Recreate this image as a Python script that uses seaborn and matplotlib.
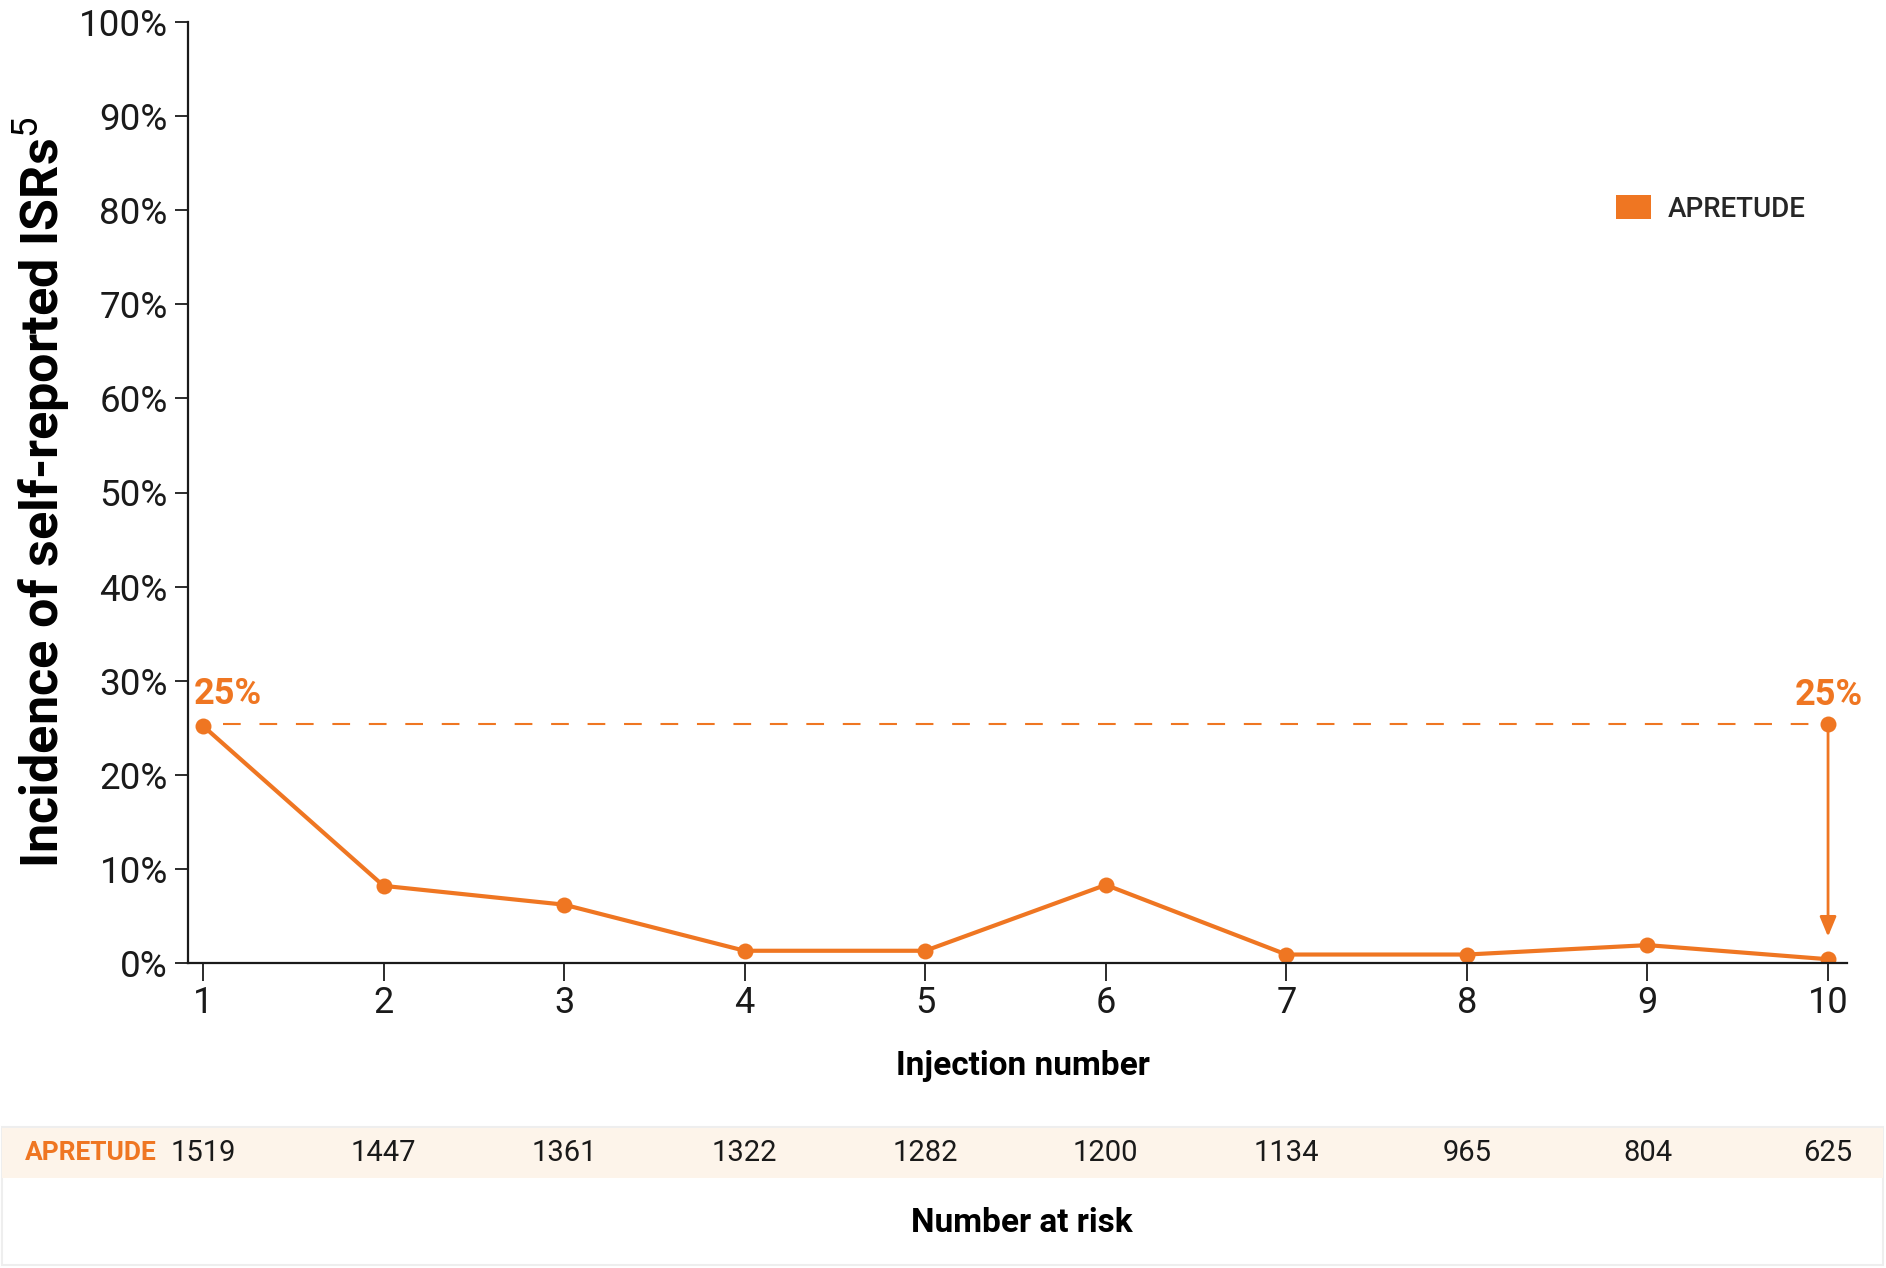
import numpy as np
import pandas as pd
import matplotlib
matplotlib.use("Agg")
import matplotlib.pyplot as plt
import matplotlib.transforms as mtransforms
from matplotlib.patches import Patch, Rectangle
import seaborn as sns

# ==========================
# Data
# ==========================

injections = [1, 2, 3, 4, 5, 6, 7, 8, 9, 10]
incidence = [25.2, 8.2, 6.2, 1.3, 1.3, 8.3, 0.9, 0.9, 1.9, 0.4]
number_at_risk = [1519, 1447, 1361, 1322, 1282, 1200, 1134, 965, 804, 625]
y_ticks = [0, 10, 20, 30, 40, 50, 60, 70, 80, 90, 100]

series_name = "APRETUDE"
first_label = "25%"
first_level = 25.4
arrow_end = 2.8

ORANGE = "#EF7622"
BAND = "#FDF4EA"
DARK = "#1a1a1a"

df = pd.DataFrame({"injection": injections, "incidence": incidence})

# ==========================
# Style
# ==========================

sns.set_style("ticks")
plt.rcParams["font.family"] = ["Roboto", "DejaVu Sans"]
plt.rcParams["mathtext.fontset"] = "custom"
plt.rcParams["mathtext.rm"] = "Roboto"

fig = plt.figure(figsize=(18.86, 12.68), dpi=100)
ax = fig.add_axes([188 / 1886, 1 - 963 / 1268, (1847 - 188) / 1886, (963 - 22) / 1268])

# ==========================
# Line
# ==========================

sns.lineplot(
    data=df,
    x="injection",
    y="incidence",
    color=ORANGE,
    linewidth=3,
    marker="o",
    markersize=11.5,
    markeredgecolor=ORANGE,
    markeredgewidth=0,
    ax=ax,
)

# dashed reference from first injection level
ax.plot([injections[0] + 0.11, injections[-1]], [first_level, first_level],
        color=ORANGE, lw=1.5, linestyle=(0, (8.5, 9)), zorder=2)
ax.plot([injections[-1]], [first_level], "o", color=ORANGE, markersize=11.5,
        markeredgewidth=0, zorder=4)

ax.annotate(
    "",
    xy=(injections[-1], arrow_end),
    xytext=(injections[-1], first_level),
    arrowprops=dict(arrowstyle="-|>,head_length=0.6,head_width=0.25",
                    color=ORANGE, lw=2, mutation_scale=20,
                    shrinkA=0, shrinkB=0),
)

ax.annotate(first_label, xy=(injections[0], incidence[0]), xytext=(-7, 10),
            textcoords="offset points", ha="left", va="bottom",
            color=ORANGE, fontsize=26, fontweight="bold")
ax.annotate(first_label, xy=(injections[-1], first_level), xytext=(25, 8),
            textcoords="offset points", ha="right", va="bottom",
            color=ORANGE, fontsize=26, fontweight="bold")

# ==========================
# Axes
# ==========================

ax.set_xlim(0.917, 10.105)
ax.set_ylim(0, 100)
ax.set_xticks(injections)
ax.set_xticklabels([str(i) for i in injections])
ax.set_yticks(y_ticks)
ax.set_yticklabels([f"{v}%" for v in y_ticks])

sns.despine(ax=ax)
for side in ["left", "bottom"]:
    ax.spines[side].set_linewidth(1.6)
    ax.spines[side].set_color(DARK)

ax.tick_params(axis="y", length=9.5, width=1.3, pad=5, labelsize=26.5,
               colors=DARK)
ax.tick_params(axis="x", length=13, width=1.3, pad=3, labelsize=26,
               colors=DARK)

ax.set_xlabel("Injection number", fontsize=24, fontweight="bold", color="black")
ax.xaxis.set_label_coords(0.503, -0.092)
ax.xaxis.label.set_va("top")

ax.set_ylabel(r"Incidence of self-reported ISRs$^{\mathrm{5}}$",
              fontsize=37.5, fontweight="bold", color="black")
ax.yaxis.label.set_va("center")
ax.yaxis.set_label_coords(-0.088, 0.5)

ax.legend(
    handles=[Patch(facecolor=ORANGE, edgecolor="none", label=series_name)],
    loc="center left",
    bbox_to_anchor=(1616 / 1886, 1 - 209 / 1268),
    bbox_transform=fig.transFigure,
    frameon=False,
    prop={"size": 20, "weight": "medium"},
    handlelength=1.25,
    handleheight=0.95,
    handletextpad=0.6,
    borderpad=0,
    borderaxespad=0,
)

# ==========================
# Number at risk table
# ==========================

fig.patches.append(Rectangle((0.0008, 1 - 1265 / 1268), 0.9975, 138 / 1268,
                             transform=fig.transFigure, facecolor="white",
                             edgecolor="#eeeeee", lw=1.5, zorder=0))
fig.patches.append(Rectangle((0.0008, 1 - 1178 / 1268), 0.9975, 50 / 1268,
                             transform=fig.transFigure, facecolor=BAND,
                             edgecolor="none", zorder=1))

row_y = 1 - 1153 / 1268
trans = mtransforms.blended_transform_factory(ax.transData, fig.transFigure)
for x, n in zip(injections, number_at_risk):
    fig.text(0, 0, str(n), transform=trans, fontsize=21, color=DARK,
             ha="center", va="center").set_position((x, row_y))

fig.text(25 / 1886, row_y, series_name, fontsize=19, fontweight="bold",
         color=ORANGE, ha="left", va="center")
fig.text(1022 / 1886, 1 - 1223 / 1268, "Number at risk", fontsize=24,
         fontweight="bold", color="black", ha="center", va="center")

fig.savefig("out.png", dpi=100)
plt.close(fig)
